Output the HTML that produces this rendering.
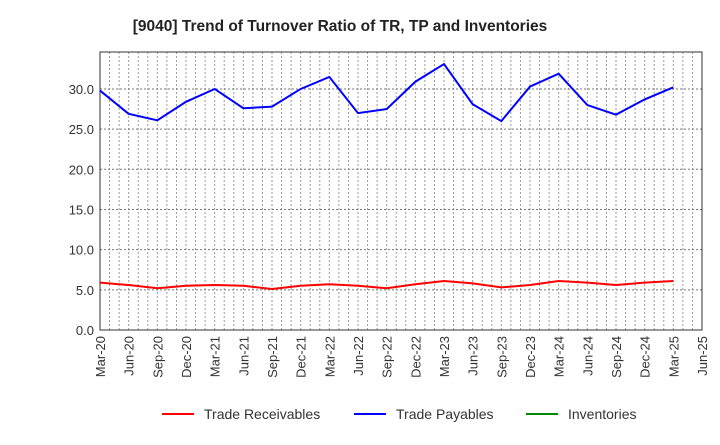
<!DOCTYPE html>
<html><head><meta charset="utf-8"><style>
body{margin:0;background:#fff;font-family:"Liberation Sans",sans-serif}
</style></head><body>
<svg id="c" width="720" height="440" xmlns="http://www.w3.org/2000/svg">
<text x="340" y="31" text-anchor="middle" font-size="15.5" font-weight="bold" fill="#222">[9040]  Trend of Turnover Ratio of TR, TP and Inventories</text>
<g id="grid"></g><g id="axes"></g><g id="series"></g>
<g>
<line x1="162" y1="414" x2="194" y2="414" stroke="#f00" stroke-width="2"/>
<text x="204" y="419" font-size="14" fill="#333">Trade Receivables</text>
<line x1="354" y1="414" x2="386" y2="414" stroke="#00f" stroke-width="2"/>
<text x="396" y="419" font-size="14" fill="#333">Trade Payables</text>
<line x1="526" y1="414" x2="558" y2="414" stroke="#080" stroke-width="2"/>
<text x="568" y="419" font-size="14" fill="#333">Inventories</text>
</g>
</svg>
<script>
const xLabels=["Mar-20","Jun-20","Sep-20","Dec-20","Mar-21","Jun-21","Sep-21","Dec-21","Mar-22","Jun-22","Sep-22","Dec-22","Mar-23","Jun-23","Sep-23","Dec-23","Mar-24","Jun-24","Sep-24","Dec-24","Mar-25","Jun-25"];
const yTicks=[0,5,10,15,20,25,30];
const payables=[29.8,26.9,26.1,28.4,30.0,27.6,27.8,30.0,31.5,27.0,27.5,30.9,33.1,28.1,26.0,30.3,31.9,28.0,26.8,28.7,30.2];
const receivables=[5.9,5.6,5.2,5.5,5.6,5.5,5.1,5.5,5.7,5.5,5.2,5.7,6.1,5.8,5.3,5.6,6.1,5.9,5.6,5.9,6.1];
const inventories=[];
const L=100,R=702,T=52,B=330,yMax=34.6;
const NS="http://www.w3.org/2000/svg";
const xq=i=>L+i*(R-L)/(xLabels.length-1);
const y=v=>B-v/yMax*(B-T);
function mk(t,a,p){const e=document.createElementNS(NS,t);for(const k in a)e.setAttribute(k,a[k]);p.appendChild(e);return e;}
const g=document.getElementById('grid'),ax=document.getElementById('axes'),s=document.getElementById('series');
for(let m=1;m<(xLabels.length-1)*3;m++){const x=L+m*(R-L)/((xLabels.length-1)*3);
const ln=mk('line',{x1:x,x2:x,y1:T,y2:B,stroke:'#999','stroke-dasharray':'2,2','stroke-width':1},g);

}
yTicks.forEach(v=>{if(v>0){const ln=mk('line',{x1:L,x2:R,y1:y(v),y2:y(v),stroke:'#777','stroke-dasharray':'2,2','stroke-width':1},g);

}
const t=mk('text',{x:L-6,y:y(v)+5,'text-anchor':'end','font-size':13,fill:'#333'},ax);t.textContent=v.toFixed(1);

});
const fr=mk('rect',{x:L,y:T,width:R-L,height:B-T,fill:'none',stroke:'#333','stroke-width':1},ax);


xLabels.forEach((l,i)=>{const t=mk('text',{transform:`translate(${xq(i)+5},${B+6}) rotate(-90)`,'text-anchor':'end','font-size':13,fill:'#333'},ax);t.textContent=l;

});
function line(d,c,n){if(!d.length)return;const p=mk('polyline',{points:d.map((v,i)=>xq(i)+','+y(v)).join(' '),fill:'none',stroke:c,'stroke-width':2},s);

}
line(receivables,'#f00','trade-receivables-line');
line(payables,'#00f','trade-payables-line');
line(inventories,'#080','inventories-line');
</script>
</body></html>
